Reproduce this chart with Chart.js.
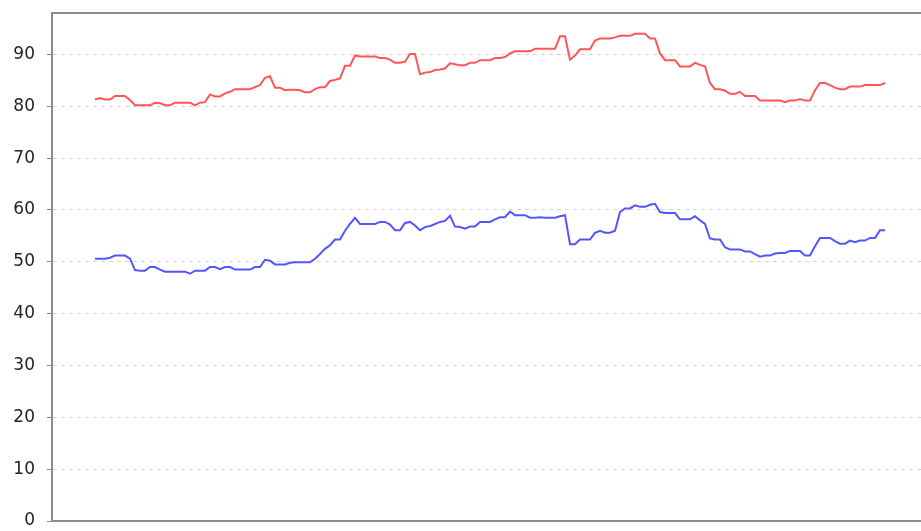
<!DOCTYPE html>
<html>
<head>
<meta charset="utf-8">
<script src="https://cdn.jsdelivr.net/npm/chart.js@4"></script>
<style>
  html, body { margin: 0; padding: 0; background: #fff; }
  #wrap { width: 921px; height: 531px; position: relative; }
</style>
</head>
<body>
<div id="wrap"><canvas id="myChart"></canvas></div>
<script>
// red series (upper)
const upperValues = [
    81.3, 81.6, 81.3, 81.3, 82.0, 82.0, 82.0, 81.2, 80.2, 80.2,
    80.2, 80.2, 80.7, 80.6, 80.2, 80.2, 80.7, 80.7, 80.7, 80.7,
    80.2, 80.7, 80.8, 82.3, 81.9, 81.9, 82.5, 82.8, 83.3, 83.3,
    83.3, 83.3, 83.7, 84.1, 85.5, 85.8, 83.6, 83.6, 83.1, 83.2,
    83.2, 83.1, 82.7, 82.7, 83.3, 83.7, 83.7, 84.9, 85.1, 85.4,
    87.8, 87.8, 89.8, 89.6, 89.6, 89.6, 89.6, 89.3, 89.3, 89.0,
    88.4, 88.4, 88.6, 90.1, 90.1, 86.2, 86.5, 86.6, 87.0, 87.1,
    87.3, 88.3, 88.1, 87.9, 87.9, 88.4, 88.4, 88.9, 88.9, 88.9,
    89.3, 89.3, 89.5, 90.2, 90.6, 90.6, 90.6, 90.6, 91.1, 91.1,
    91.1, 91.1, 91.1, 93.5, 93.5, 89.0, 89.8, 91.0, 91.0, 91.0,
    92.7, 93.1, 93.1, 93.1, 93.3, 93.6, 93.6, 93.6, 94.0, 94.0,
    94.0, 93.1, 93.1, 90.2, 88.9, 88.9, 88.9, 87.7, 87.7, 87.7,
    88.4, 88.0, 87.7, 84.5, 83.3, 83.3, 83.0, 82.4, 82.4, 82.8,
    82.0, 82.0, 82.0, 81.1, 81.1, 81.1, 81.1, 81.1, 80.8, 81.1,
    81.1, 81.4, 81.1, 81.1, 83.1, 84.5, 84.5, 84.1, 83.6, 83.3,
    83.3, 83.8, 83.8, 83.8, 84.1, 84.1, 84.1, 84.1, 84.5
];

// blue series (lower)
const lowerValues = [
    50.6, 50.6, 50.6, 50.8, 51.2, 51.2, 51.2, 50.6, 48.4, 48.3,
    48.3, 49.0, 49.0, 48.5, 48.1, 48.1, 48.1, 48.1, 48.1, 47.7,
    48.3, 48.3, 48.3, 49.0, 49.0, 48.6, 49.0, 49.0, 48.5, 48.5,
    48.5, 48.5, 49.0, 49.0, 50.4, 50.2, 49.5, 49.5, 49.5, 49.8,
    49.9, 49.9, 49.9, 49.9, 50.6, 51.5, 52.5, 53.2, 54.3, 54.3,
    56.0, 57.3, 58.5, 57.3, 57.3, 57.3, 57.3, 57.7, 57.7, 57.2,
    56.1, 56.1, 57.5, 57.7, 57.0, 56.1, 56.7, 56.9, 57.3, 57.7,
    57.9, 58.9, 56.8, 56.7, 56.4, 56.8, 56.8, 57.7, 57.7, 57.7,
    58.2, 58.6, 58.6, 59.7, 59.0, 59.0, 59.0, 58.5, 58.5, 58.6,
    58.5, 58.5, 58.5, 58.8, 59.0, 53.4, 53.4, 54.3, 54.3, 54.3,
    55.6, 56.0, 55.6, 55.6, 56.0, 59.6, 60.3, 60.3, 60.9, 60.6,
    60.6, 61.0, 61.2, 59.6, 59.4, 59.4, 59.4, 58.2, 58.2, 58.2,
    58.8, 58.0, 57.3, 54.5, 54.3, 54.3, 52.8, 52.4, 52.4, 52.4,
    52.0, 52.0, 51.5, 51.0, 51.2, 51.2, 51.6, 51.7, 51.7, 52.1,
    52.1, 52.1, 51.2, 51.2, 53.0, 54.6, 54.6, 54.6, 54.0, 53.5,
    53.5, 54.1, 53.8, 54.1, 54.1, 54.6, 54.6, 56.1, 56.1
];

// sample index along x (no labels shown on the axis)
const samples = upperValues.map((v, i) => i);

const yTicks = { min: 0, max: 98, step: 10 };

const axisGray = '#8c8c8c';

// draws the top edge of the plot frame
const topFrame = {
    id: 'topFrame',
    beforeDatasetsDraw(chart) {
        const { ctx, chartArea } = chart;
        ctx.save();
        ctx.strokeStyle = axisGray;
        ctx.lineWidth = 2;
        ctx.beginPath();
        ctx.moveTo(chartArea.left, chartArea.top);
        ctx.lineTo(chartArea.right, chartArea.top);
        ctx.stroke();
        ctx.restore();
    }
};

function toPoints(values) {
    return values.map((v, i) => ({ x: samples[i], y: v }));
}

const ctx = document.getElementById('myChart').getContext('2d');
const myChart = new Chart(ctx, {
    type: 'line',
    data: {
        datasets: [
            {
                label: 'upper',
                data: toPoints(upperValues),
                borderColor: 'rgb(255, 85, 85)',
                borderWidth: 2,
                pointRadius: 0,
                tension: 0
            },
            {
                label: 'lower',
                data: toPoints(lowerValues),
                borderColor: 'rgb(85, 85, 255)',
                borderWidth: 2,
                pointRadius: 0,
                tension: 0
            }
        ]
    },
    options: {
        responsive: true,
        maintainAspectRatio: false,
        animation: false,
        layout: { padding: { top: 13, right: 0, bottom: 10, left: 0 } },
        plugins: {
            legend: { display: false },
            tooltip: { enabled: false }
        },
        scales: {
            x: {
                type: 'linear',
                min: -8.6,
                max: samples.length - 1 + 7.2,
                ticks: { display: false },
                grid: { display: false },
                border: { color: axisGray, width: 2 },
                afterFit: (scale) => { scale.height = 0; }
            },
            y: {
                min: yTicks.min,
                max: yTicks.max,
                ticks: {
                    stepSize: yTicks.step,
                    includeBounds: false,
                    color: '#222',
                    padding: 12,
                    font: { family: 'DejaVu Sans', size: 17 }
                },
                grid: {
                    color: '#d4d4d4',
                    tickLength: 5,
                    tickColor: axisGray,
                    tickBorderDash: []
                },
                border: { color: axisGray, width: 2, dash: [4, 4] },
                afterFit: (scale) => {
                    scale.width = 52;
                    scale.paddingTop = 0;
                    scale.paddingBottom = 0;
                }
            }
        }
    },
    plugins: [topFrame]
});
</script>
</body>
</html>
